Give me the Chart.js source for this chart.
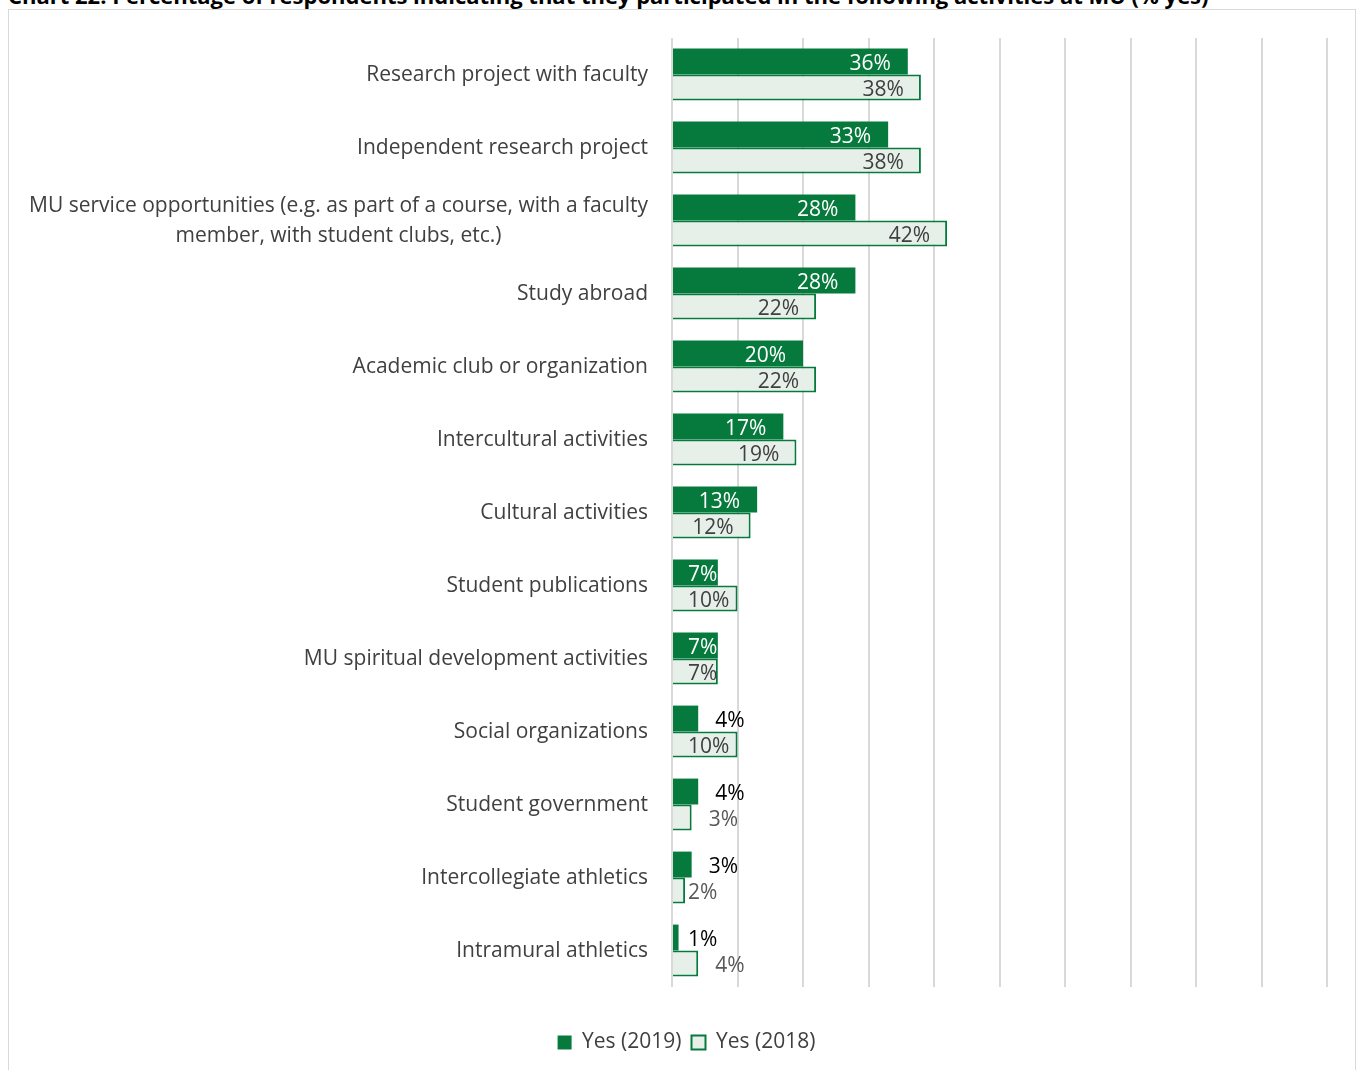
<!DOCTYPE html>
<html>
<head>
<meta charset="utf-8">
<script src="https://cdn.jsdelivr.net/npm/chart.js@4.4.1/dist/chart.umd.min.js"></script>
<style>
  html, body { margin: 0; padding: 0; background: #fff; width: 1356px; height: 1070px; overflow: hidden; }
  #frame { position: absolute; left: 8px; top: 9px; width: 1346px; height: 1100px; border: 1px solid #d9d9d9; }
  #title { position: absolute; left: 8px; top: -15px; font-family: "Open Sans", sans-serif; font-weight: bold; font-size: 22px; line-height: 20px; color: #000; white-space: nowrap; }
  #wrap { position: absolute; left: 0; top: 0; width: 1356px; height: 1070px; }
</style>
</head>
<body>
<div id="frame"></div>
<div id="title">Chart 22: Percentage of respondents indicating that they participated in the following activities at MU (% yes)</div>
<div id="wrap"><canvas id="c" width="1356" height="1070"></canvas></div>
<script>
const categories = [
  ["Research project with faculty"],
  ["Independent research project"],
  ["MU service opportunities (e.g. as part of a course, with a faculty", "member, with student clubs, etc.)"],
  ["Study abroad"],
  ["Academic club or organization"],
  ["Intercultural activities"],
  ["Cultural activities"],
  ["Student publications"],
  ["MU spiritual development activities"],
  ["Social organizations"],
  ["Student government"],
  ["Intercollegiate athletics"],
  ["Intramural athletics"]
];
const yes2019 = [36, 33, 28, 28, 20, 17, 13, 7, 7, 4, 4, 3, 1];
const yes2018 = [38, 38, 42, 22, 22, 19, 12, 10, 7, 10, 3, 2, 4];
const seriesNames = ["Yes (2019)", "Yes (2018)"];
const xTicks = [0, 10, 20, 30, 40, 50, 60, 70, 80, 90, 100];

const GREEN = '#067A3D';
const LIGHT = '#E6F0E9';
const FONT = '"Open Sans", sans-serif';

const catLabelPlugin = {
  id: 'catLabels',
  afterDraw(chart) {
    const ctx = chart.ctx;
    const ys = chart.scales.y;
    const right = chart.chartArea.left - 24;
    ctx.save();
    ctx.font = '21px ' + FONT;
    ctx.fillStyle = '#404040';
    ctx.textBaseline = 'middle';
    categories.forEach((lines, i) => {
      const cy = ys.getPixelForValue(i) + 1;
      const lh = 30;
      const widths = lines.map(l => ctx.measureText(l).width);
      const bw = Math.max(...widths);
      const center = right - bw / 2;
      lines.forEach((l, k) => {
        const y = cy + (k - (lines.length - 1) / 2) * lh;
        ctx.textAlign = 'center';
        ctx.fillText(l, center, y);
      });
    });
    ctx.restore();
  }
};

const valueLabelPlugin = {
  id: 'valueLabels',
  afterDatasetsDraw(chart) {
    const ctx = chart.ctx;
    const left = chart.chartArea.left;
    ctx.save();
    ctx.font = '21px ' + FONT;
    ctx.textBaseline = 'middle';
    ctx.textAlign = 'left';
    chart.data.datasets.forEach((ds, di) => {
      const meta = chart.getDatasetMeta(di);
      meta.data.forEach((bar, i) => {
        const v = ds.data[i];
        const txt = v + '%';
        const w = ctx.measureText(txt).width;
        const end = bar.x;
        let x;
        if (v >= 7) {
          x = end - 17 - w;
          if (x < left + 16) x = left + 16;
          ctx.fillStyle = di === 0 ? '#ffffff' : '#404040';
        } else {
          x = v >= 3 ? end + 17 : left + 16;
          ctx.fillStyle = di === 0 ? '#000000' : '#595959';
        }
        ctx.fillText(txt, x, bar.y + 2.5);
      });
    });
    ctx.restore();
  }
};

new Chart(document.getElementById('c'), {
  type: 'bar',
  data: {
    labels: categories.map(l => l.join(' ')),
    datasets: [
      { label: seriesNames[0], data: yes2019, backgroundColor: GREEN, borderWidth: 0,
        categoryPercentage: 0.71, barPercentage: 1 },
      { label: seriesNames[1], data: yes2018, backgroundColor: LIGHT, borderColor: GREEN, borderWidth: 2,
        categoryPercentage: 0.71, barPercentage: 1 }
    ]
  },
  options: {
    indexAxis: 'y',
    responsive: false,
    animation: false,
    layout: { padding: { left: 46, right: 29, top: 38, bottom: 7 } },
    scales: {
      x: {
        min: 0, max: 100,
        afterBuildTicks(scale) { scale.ticks = xTicks.map(v => ({ value: v })); },
        ticks: { display: false },
        grid: { color: '#d9d9d9', lineWidth: 2, drawTicks: false },
        border: { display: false },
        afterFit(scale) { scale.height = 35; }
      },
      y: {
        ticks: { display: false },
        grid: { display: false },
        border: { display: false },
        afterFit(scale) { scale.width = 626; }
      }
    },
    plugins: {
      legend: {
        position: 'bottom',
        labels: {
          boxWidth: 14, boxHeight: 14, padding: 10,
          font: { family: FONT, size: 21 }, color: '#404040',
          generateLabels(chart) {
            return chart.data.datasets.map((ds, i) => ({
              text: ds.label, fillStyle: ds.backgroundColor,
              strokeStyle: GREEN, lineWidth: i === 1 ? 2 : 0,
              datasetIndex: i, hidden: false, fontColor: '#404040'
            }));
          }
        }
      },
      tooltip: { enabled: false },
      title: { display: false }
    }
  },
  plugins: [catLabelPlugin, valueLabelPlugin]
});
</script>
</body>
</html>
